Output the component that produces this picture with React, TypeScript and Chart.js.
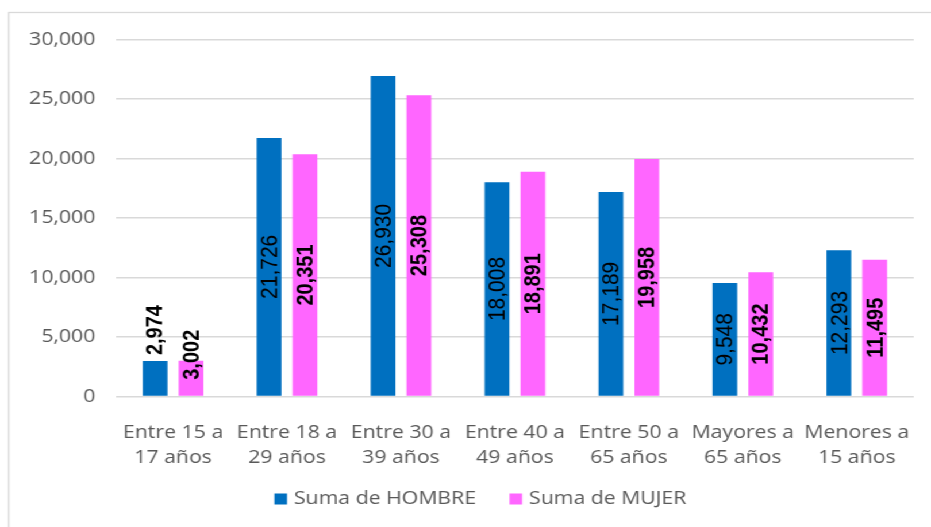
import React, { useEffect, useRef } from "react";
import { Chart, registerables } from "chart.js";

Chart.register(...registerables);

const categories: string[][] = [
  ["Entre 15 a", "17 años"],
  ["Entre 18 a", "29 años"],
  ["Entre 30 a", "39 años"],
  ["Entre 40 a", "49 años"],
  ["Entre 50 a", "65 años"],
  ["Mayores a", "65 años"],
  ["Menores a", "15 años"],
];
const seriesNames = ["Suma de HOMBRE", "Suma de MUJER"];
const hombre = [2974, 21726, 26930, 18008, 17189, 9548, 12293];
const mujer = [3002, 20351, 25308, 18891, 19958, 10432, 11495];
const yMin = 0;
const yMax = 30000;
const yStep = 5000;

const BLUE = "#0070C0";
const PINK = "#FF66FF";
const GRAY_TEXT = "#595959";
const GRID = "#D9D9D9";
const SX = 931 / 810;
const TEXT_FONT = "'Open Sans', 'Noto Sans', sans-serif";
const LABEL_FONT = "'Liberation Sans', Arial, sans-serif";

const fmt = (v: number) => v.toLocaleString("en-US");

const decorPlugin = {
  id: "decor",
  beforeDraw(chart: any) {
    const ctx = chart.ctx;
    ctx.save();
    ctx.strokeStyle = GRID;
    ctx.lineWidth = 1.3;
    ctx.strokeRect(7.6, 12.5, 1000, 1000);
    ctx.restore();
  },
  afterDatasetsDraw(chart: any) {
    const ctx = chart.ctx;
    chart.data.datasets.forEach((ds: any, di: number) => {
      const meta = chart.getDatasetMeta(di);
      meta.data.forEach((bar: any, i: number) => {
        const v = ds.data[i];
        const bold = di === 1 || i === 0;
        ctx.save();
        ctx.fillStyle = "#000";
        ctx.font = (bold ? "bold 20px " : "21px ") + LABEL_FONT;
        ctx.textBaseline = "middle";
        const cx = bar.x;
        if (i === 0) {
          if (di === 0) {
            ctx.translate(cx, bar.y - 6);
            ctx.rotate(-Math.PI / 2);
            ctx.textAlign = "left";
          } else {
            ctx.translate(cx, bar.y - 6);
            ctx.rotate(-Math.PI / 2);
            ctx.textAlign = "center";
          }
        } else {
          ctx.translate(cx, (bar.y + bar.base) / 2);
          ctx.rotate(-Math.PI / 2);
          ctx.textAlign = "center";
        }
        ctx.fillText(fmt(v), 0, 1);
        ctx.restore();
      });
    });
    // legend
    ctx.save();
    ctx.font = "18.5px " + TEXT_FONT;
    ctx.textBaseline = "middle";
    const sq = 11;
    const gapSqText = 6;
    const gapItems = 29;
    const widths = seriesNames.map((n) => ctx.measureText(n).width);
    const total =
      widths.reduce((a, b) => a + b, 0) + (sq + gapSqText) * seriesNames.length + gapItems * (seriesNames.length - 1);
    let x = 418 - total / 2;
    const cy = 499;
    seriesNames.forEach((n, k) => {
      ctx.fillStyle = chart.data.datasets[k].backgroundColor;
      ctx.fillRect(x, cy - sq / 2, sq, sq);
      x += sq + gapSqText;
      ctx.fillStyle = GRAY_TEXT;
      ctx.textAlign = "left";
      ctx.fillText(n, x, cy);
      x += widths[k] + gapItems;
    });
    ctx.restore();
  },
};

export default function App() {
  const ref = useRef<HTMLCanvasElement | null>(null);
  useEffect(() => {
    if (!ref.current) return;
    const chart = new Chart(ref.current, {
      type: "bar",
      data: {
        labels: categories,
        datasets: [
          { label: seriesNames[0], data: hombre, backgroundColor: BLUE, categoryPercentage: 0.63, barPercentage: 0.69 },
          { label: seriesNames[1], data: mujer, backgroundColor: PINK, categoryPercentage: 0.63, barPercentage: 0.69 },
        ],
      },
      options: {
        animation: false,
        responsive: true,
        maintainAspectRatio: false,
        layout: { padding: { left: 0, right: 15, top: 39.5, bottom: 60.5 } },
        plugins: { legend: { display: false }, tooltip: { enabled: false } },
        scales: {
          x: {
            grid: { display: false },
            border: { display: false },
            ticks: {
              color: GRAY_TEXT,
              font: { family: TEXT_FONT, size: 18.5, lineHeight: 1.35 },
              padding: 16,
              maxRotation: 0,
              autoSkip: false,
            },
            afterFit: (s: any) => {
              s.height = 70;
            },
          },
          y: {
            min: yMin,
            max: yMax,
            grid: { color: GRID, lineWidth: 1.5, drawTicks: false },
            border: { display: false },
            ticks: {
              stepSize: yStep,
              color: GRAY_TEXT,
              font: { family: TEXT_FONT, size: 18.5 },
              padding: 18,
              callback: (v: any) => fmt(Number(v)),
            },
            afterFit: (s: any) => {
              s.width = 101;
            },
          },
        },
      },
      plugins: [decorPlugin],
    });
    return () => chart.destroy();
  }, []);
  return (
    <div
      style={{
        position: "fixed",
        left: 0,
        top: 0,
        width: 810,
        height: 527,
        transform: `scaleX(${SX})`,
        transformOrigin: "0 0",
        background: "#fff",
      }}
    >
      <canvas ref={ref} />
    </div>
  );
}
